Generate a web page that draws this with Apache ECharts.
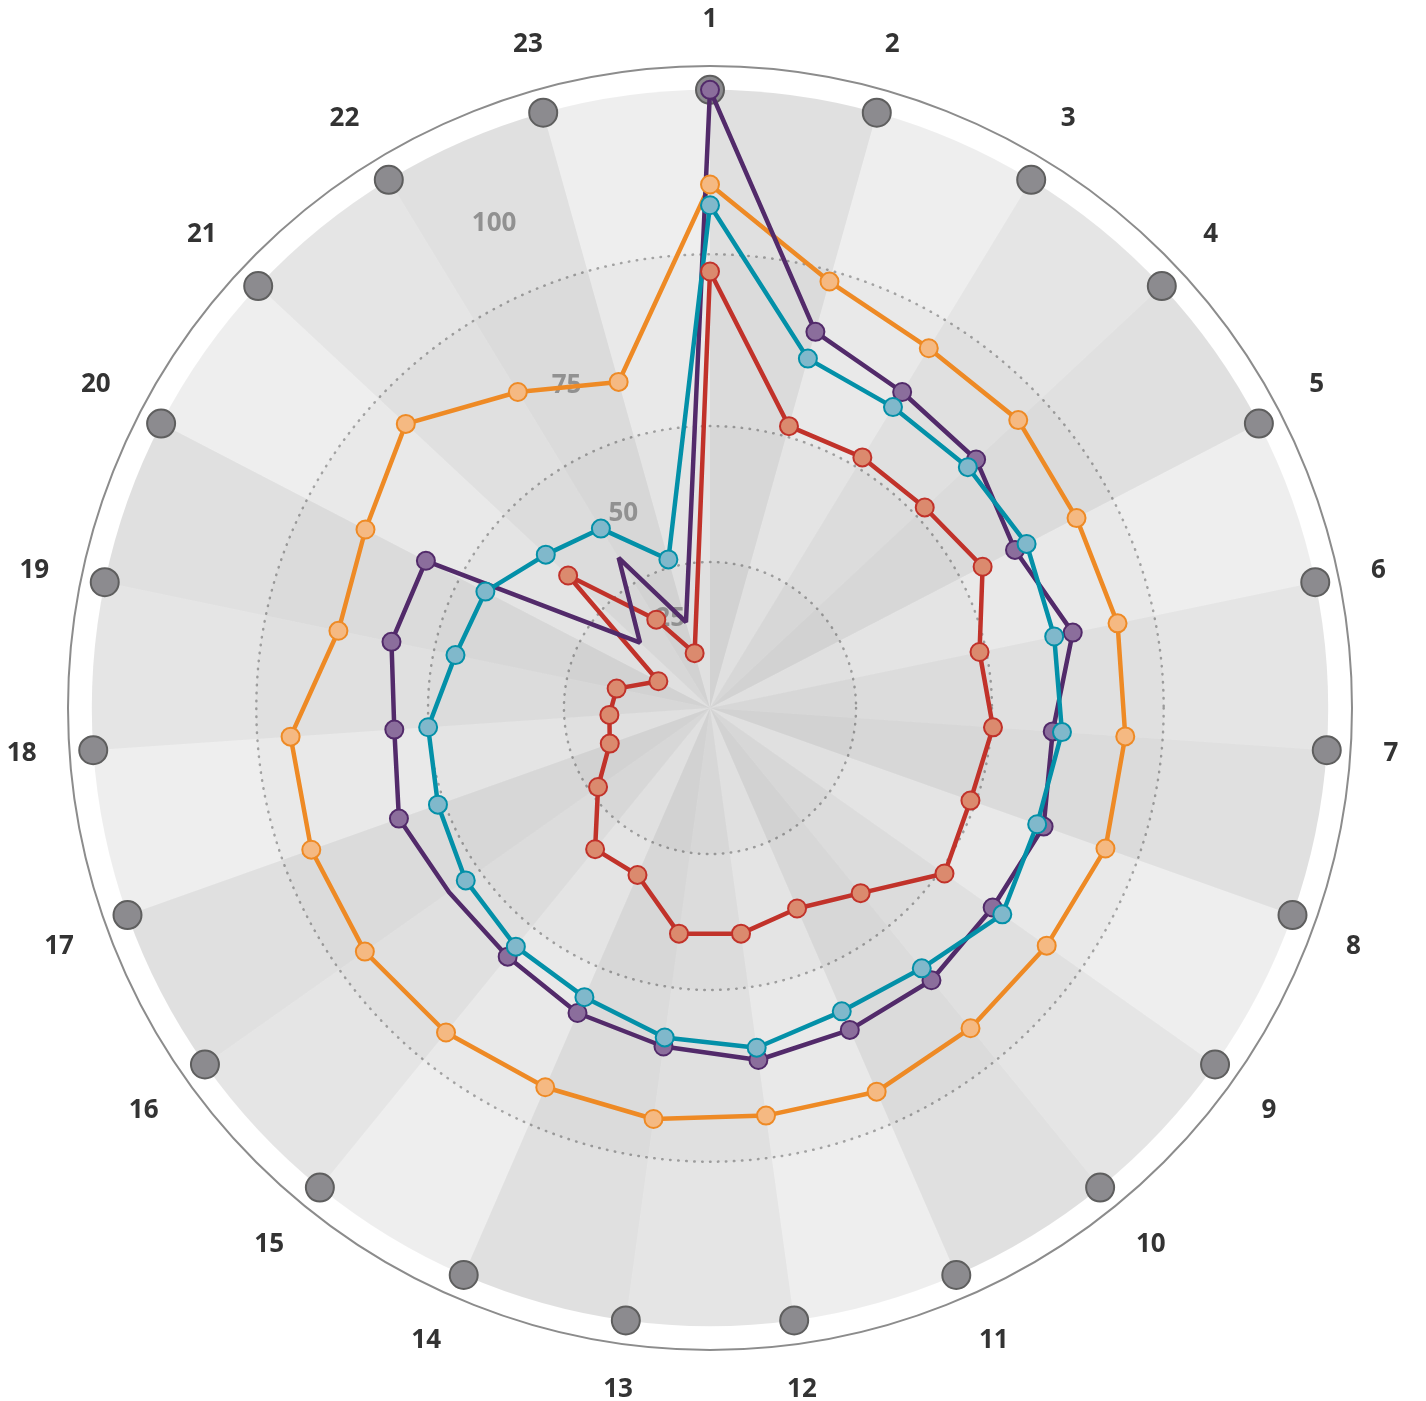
<!DOCTYPE html>
<html>
<head>
<meta charset="utf-8">
<script src="https://cdn.jsdelivr.net/npm/echarts@6/dist/echarts.min.js"></script>
<style>
html,body{margin:0;padding:0;background:#ffffff;}
#chart{width:1426px;height:1401px;}
</style>
</head>
<body>
<div id="chart"></div>
<script>
// ---------------- data ----------------
const categories = ['1','2','3','4','5','6','7','8','9','10','11','12','13','14','15','16','17','18','19','20','21','22','23'];

const orangeValues = [99.1, 88.5, 85.4, 85.5, 84.2, 84.7, 84.7, 85.2, 84.1, 84.2, 85.0, 84.0, 84.5, 84.3, 85.0, 85.6, 85.7, 85.3, 79.2, 80.5, 84.7, 77.7, 72.7];
const tealValues   = [96.5, 76.6, 74.9, 75.0, 75.6, 74.8, 75.0, 74.1, 75.8, 72.2, 71.4, 73.4, 71.7, 68.8, 67.5, 66.0, 64.2, 63.1, 59.0, 57.7, 52.3, 49.4, 37.8];
const purpleValues = [110, 80.9, 77.7, 76.8, 73.5, 77.8, 73.5, 75.2, 73.9, 74.7, 74.7, 75.4, 73.2, 71.7, 69.7, 69.5, 71.3, 69.0, 70.5, 69.6, 24.5, 42.4, 22.9];
const redValues    = [87.6, 64.9, 65.0, 65.1, 67.4, 61.8, 63.3, 62.0, 63.9, 55.0, 51.1, 52.9, 52.9, 43.7, 43.7, 34.0, 27.0, 25.7, 24.4, 15.3, 46.2, 26.3, 15.0];
const maxValues    = [110, 110, 110, 110, 110, 110, 110, 110, 110, 110, 110, 110, 110, 110, 110, 110, 110, 110, 110, 110, 110, 110, 110];
// purple points drawn without a marker
const purpleNoMarker = ['16', '21', '22', '23'];

// radial axis ticks
const radiusLabelValues = [25, 50, 75, 100];
const ringValues = [36, 63, 90];

// ---------------- scale ----------------
// The reference uses a reversed logarithmic radial scale: position ~ log(K - value)
const K = 180;             // value at the centre
const OUTER_VALUE = 112.5; // value at the outer axis circle
const toU = v => K - v;

const CENTER = [710, 708];
const RADIUS = 642;
const WEDGE_TOP = 110;
const WEDGE_RADIUS = RADIUS * Math.log(K / toU(WEDGE_TOP)) / Math.log(K / toU(OUTER_VALUE));
const HALF_STEP = 180 / categories.length; // half a category, in degrees

const FONT = 'Open Sans';

function lineSeries(name, values, lineColor, fillColor, noMarker) {
  const data = values.map((v, i) => {
    const item = { value: [toU(v), i] };
    if (noMarker && noMarker.indexOf(categories[i]) >= 0) item.symbol = 'none';
    return item;
  });
  // close the loop back to the first category
  data.push({ value: [toU(values[0]), 0], symbol: 'none' });
  return {
    type: 'line', name: name,
    coordinateSystem: 'polar', polarIndex: 0,
    data: data,
    clip: false,
    symbol: 'circle', symbolSize: 18,
    showAllSymbol: true,
    lineStyle: { color: lineColor, width: 4.5 },
    itemStyle: { color: fillColor, borderColor: lineColor, borderWidth: 2 },
    emphasis: { disabled: true },
    silent: true
  };
}

const wedgeAlpha = [0.12, 0.066, 0.10];

const option = {
  animation: false,
  backgroundColor: '#ffffff',
  polar: [
    { center: CENTER, radius: RADIUS },
    { center: CENTER, radius: WEDGE_RADIUS },
    { center: CENTER, radius: RADIUS }
  ],
  angleAxis: [
    {
      // category centres: category 1 straight up, clockwise
      polarIndex: 0, type: 'category', data: categories,
      boundaryGap: true, startAngle: 90 + HALF_STEP, clockwise: true,
      axisLine: { show: false },
      axisTick: { show: false },
      splitLine: { show: false },
      axisLabel: { interval: 0, margin: 33, color: '#333333', fontSize: 26, fontWeight: 'bold', fontFamily: FONT }
    },
    {
      // background wedges span from one category to the next
      polarIndex: 1, type: 'category', data: categories,
      boundaryGap: true, startAngle: 90, clockwise: true, show: false
    },
    {
      polarIndex: 2, type: 'value', min: 0, max: 360, startAngle: 114,
      axisLine: { show: true, lineStyle: { color: '#8c8c8c', width: 2 } },
      axisTick: { show: false }, axisLabel: { show: false }, splitLine: { show: false }
    }
  ],
  radiusAxis: [
    { polarIndex: 0, type: 'log', min: toU(OUTER_VALUE), max: K, inverse: true, show: false },
    { polarIndex: 1, type: 'value', min: 0, max: WEDGE_TOP, show: false },
    {
      polarIndex: 2, type: 'log', min: toU(OUTER_VALUE), max: K, inverse: true,
      axisLine: { show: false },
      axisTick: { show: false, customValues: [K].concat(ringValues.map(toU)) },
      axisLabel: {
        show: true,
        customValues: radiusLabelValues.map(toU),
        formatter: function (u) { return String(Math.round(K - u)); },
        margin: 0, rotate: 0, align: 'center', verticalAlign: 'middle',
        color: '#a6a6a6', fontSize: 26, fontWeight: 'bold', fontFamily: FONT
      },
      splitLine: { show: true, lineStyle: { color: '#b0b0b0', width: 2.5, type: [0.5, 7.5], cap: 'round' } },
      splitArea: { show: true, areaStyle: { color: ['rgba(0,0,0,0.06)', 'rgba(0,0,0,0.04)', 'rgba(0,0,0,0.02)'] } }
    }
  ],
  series: [
    {
      type: 'bar', name: 'wedges',
      coordinateSystem: 'polar', polarIndex: 1,
      data: maxValues,
      barCategoryGap: '0%', barGap: '0%',
      itemStyle: { color: function (p) { return 'rgba(0,0,0,' + wedgeAlpha[p.dataIndex % 3] + ')'; } },
      emphasis: { disabled: true }, silent: true
    },
    {
      type: 'scatter', name: 'max',
      coordinateSystem: 'polar', polarIndex: 0,
      data: maxValues.map((v, i) => [toU(v), i]),
      clip: false,
      symbol: 'circle', symbolSize: 28,
      itemStyle: { color: '#8c8b8f', borderColor: '#5e5e5e', borderWidth: 2, opacity: 1 },
      emphasis: { disabled: true }, silent: true
    },
    lineSeries('orange', orangeValues, '#ee8a25', '#f5b982'),
    lineSeries('red', redValues, '#c1322a', '#db8a6e'),
    lineSeries('purple', purpleValues, '#522a6a', '#8b6e9c', purpleNoMarker),
    lineSeries('teal', tealValues, '#0390a8', '#80b8cb')
  ]
};

const chart = echarts.init(document.getElementById('chart'), null, { renderer: 'canvas' });
chart.setOption(option);
</script>
</body>
</html>
